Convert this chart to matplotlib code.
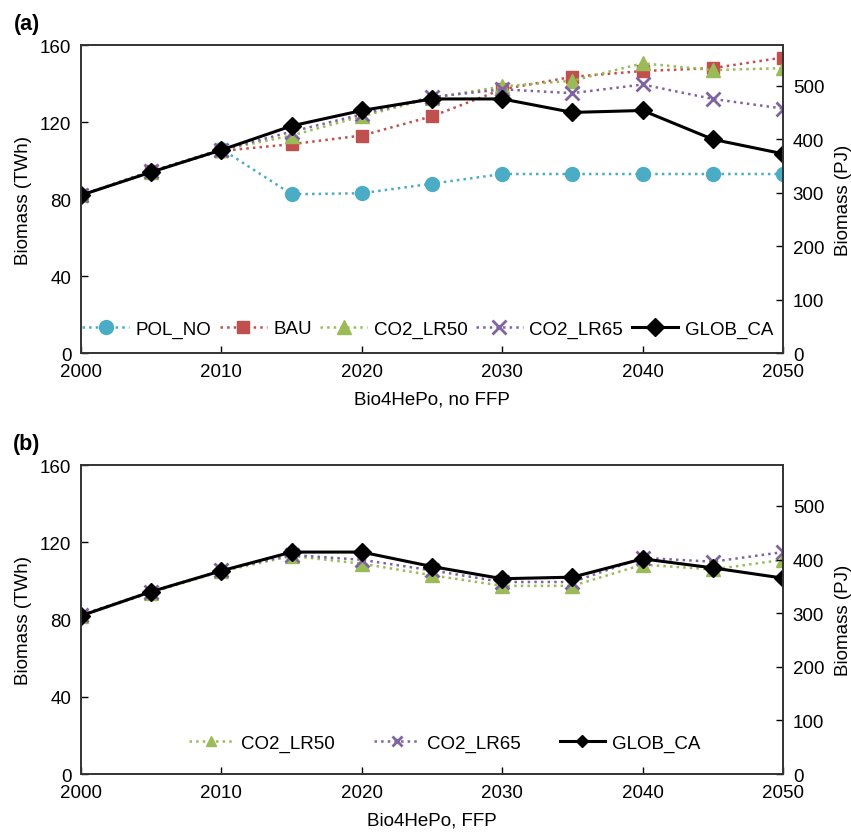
import matplotlib
matplotlib.use("Agg")
import matplotlib.pyplot as plt

plt.rcParams['font.family'] = ['Liberation Sans', 'DejaVu Sans']

years = [2000, 2005, 2010, 2015, 2020, 2025, 2030, 2035, 2040, 2045, 2050]

#panel (a): Bio4HePo, no FFP (TWh)
a_pol_no = [82, 94, 106, 82.5, 83, 88, 93, 93, 93, 93, 93]
a_bau = [82, 94.5, 105, 108.5, 113, 123, 137, 143.5, 146.5, 148, 153.5]
a_lr50 = [82, 94, 105.5, 113, 123, 132.5, 138.5, 141.5, 150.5, 147, 148]
a_lr65 = [82, 94.5, 105.5, 115, 124, 133, 137, 135, 139.5, 132, 127]
a_glob = [82, 94, 105.5, 118, 126, 132, 132, 125, 126, 111, 103.5]

#panel (b): Bio4HePo, FFP (TWh)
b_lr50 = [82, 94, 105, 113, 109, 103, 97.5, 97.5, 108.5, 106, 111]
b_lr65 = [82.5, 94.5, 105.5, 113.5, 111, 105.5, 99.5, 99.5, 112, 110, 115]
b_glob = [82, 94.5, 105.3, 115, 115, 107.5, 101.2, 102, 111.5, 106.8, 101.5]

twh_ticks = [0, 40, 80, 120, 160]
pj_ticks = [0, 100, 200, 300, 400, 500]
x_ticks = [2000, 2010, 2020, 2030, 2040, 2050]

FS = 13.5   #font size used for ticks, labels and legends

#styles for each scenario
styles = {
    "POL_NO": dict(color='#4BACC6', marker='o', linestyle=':', linewidth=1.8, markersize=10),
    "BAU": dict(color='#C0504D', marker='s', linestyle=':', linewidth=1.8, markersize=9),
    "CO2_LR50": dict(color='#9BBB59', marker='^', linestyle=':', linewidth=1.8, markersize=10),
    "CO2_LR65": dict(color='#8064A2', marker='x', linestyle=':', linewidth=1.8, markersize=10, markeredgewidth=2),
    "GLOB_CA": dict(color='black', marker='D', linestyle='-', linewidth=2.2, markersize=9),
}

fig = plt.figure(figsize=(8.51, 8.37), dpi=100)


def setup_axes(ax, xlabel, panel_label):
    ax.set_xlim(2000, 2050)
    ax.set_ylim(0, 160)
    ax.set_xticks(x_ticks)
    ax.set_yticks(twh_ticks)
    ax.tick_params(direction='in', length=5, labelsize=FS, width=1, pad=7)
    ax.set_ylabel("Biomass (TWh)", fontsize=FS, labelpad=6)
    ax.set_xlabel(xlabel, fontsize=FS, labelpad=8)
    for spine in ax.spines.values():
        spine.set_linewidth(1.2)
        spine.set_color('#333333')
    #secondary axis in PJ (1 TWh = 3.6 PJ)
    ax2 = ax.twinx()
    ax2.set_ylim(0, 160 * 3.6)
    ax2.set_yticks(pj_ticks)
    ax2.tick_params(direction='in', length=5, labelsize=FS, width=1, pad=7)
    ax2.set_ylabel("Biomass (PJ)", fontsize=FS, labelpad=8)
    for spine in ax2.spines.values():
        spine.set_linewidth(1.2)
        spine.set_color('#333333')
    ax.text(-0.077, 1.07, panel_label, transform=ax.transAxes, fontsize=15.5,
            fontweight='bold', ha='center', va='center')
    return ax2


#-----panel (a)-----#
ax_a = fig.add_axes([0.0952, 0.577, 0.825, 0.368])
setup_axes(ax_a, "Bio4HePo, no FFP", "(a)")
for name, values in [("POL_NO", a_pol_no), ("BAU", a_bau), ("CO2_LR50", a_lr50),
                     ("CO2_LR65", a_lr65), ("GLOB_CA", a_glob)]:
    ax_a.plot(years, values, label=name, **styles[name])
ax_a.legend(loc='center', bbox_to_anchor=(0.494, 0.078), ncol=5, frameon=False,
            fontsize=FS, handlelength=2.5, columnspacing=0.45, handletextpad=0.35,
            borderpad=0.2)

#-----panel (b)-----#
ax_b = fig.add_axes([0.0952, 0.074, 0.825, 0.369])
setup_axes(ax_b, "Bio4HePo, FFP", "(b)")
for name, values in [("CO2_LR50", b_lr50), ("CO2_LR65", b_lr65), ("GLOB_CA", b_glob)]:
    ax_b.plot(years, values, label=name, **styles[name])
ax_b.legend(loc='center', bbox_to_anchor=(0.518, 0.10), ncol=3, frameon=False,
            fontsize=FS, handlelength=2.4, columnspacing=2.1, handletextpad=0.4,
            markerscale=0.65, borderpad=0.2)

plt.savefig("out.png", dpi=100)
plt.close()
